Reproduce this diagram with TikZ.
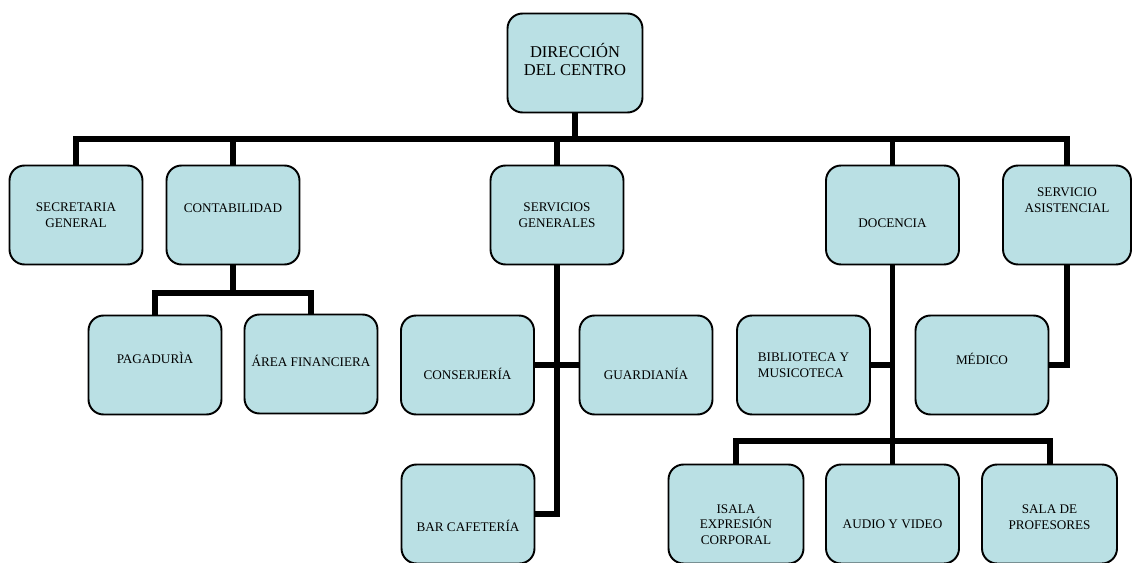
\documentclass[tikz,border=0pt]{standalone}
\usepackage{fontspec}
\setmainfont{Liberation Serif}
\usepackage{tikz}
\usetikzlibrary{positioning}
\definecolor{boxblue}{RGB}{186,224,228}
\tikzset{basic/.style={draw,line width=1.1pt,fill=boxblue,rounded corners=0.3cm,inner sep=0pt}}
\tikzset{unit/.style={basic,minimum width=2.66cm,minimum height=1.98cm}}
\tikzset{txt/.style={font=\fontsize{7.5}{8.9}\selectfont,align=center}}
\tikzset{link/.style={line width=3.4pt}}

\begin{document}
\begin{tikzpicture}[x=0.02cm,y=-0.02cm]
        \useasboundingbox (0,0) rectangle (1132,563);
        % top
        \node[unit,minimum width=2.7cm,label={[txt,font=\fontsize{9.4}{10.2}\selectfont,yshift=2pt]center:DIRECCIÓN\\DEL CENTRO}] (dir) at (575,63) {};
        \coordinate (bus) at (575,139);
        % first level
        \node[unit,label={[txt]center:SECRETARIA\\GENERAL}] (sec) at (76,215) {};
        \node[unit,label={[txt,yshift=4pt]center:CONTABILIDAD}] (cont) at (233,215) {};
        \node[unit,label={[txt]center:SERVICIOS\\GENERALES}] (sg) at (557,215) {};
        \node[unit,label={[txt,yshift=-4.5pt]center:DOCENCIA}] (doc) at (892.5,215) {};
        \node[unit,minimum width=2.56cm,label={[txt,yshift=8.5pt]center:SERVICIO\\ASISTENCIAL}] (sa) at (1067,215) {};
            \path[draw,link] (dir) -- (bus);
            \path[draw,link] (sec.north) |- (bus) -| (sa.north);
            \path[draw,link] (cont.north) -- (cont.north |- bus);
            \path[draw,link] (sg.north) -- (sg.north |- bus);
            \path[draw,link] (doc.north) -- (doc.north |- bus);
        % contabilidad
        \node[unit,label={[txt,yshift=4pt]center:PAGADURÌA}] (pag) at (155,365) {};
        \node[unit,label={[txt,yshift=2pt]center:ÁREA FINANCIERA}] (area) at (311,364) {};
        \coordinate (cbus) at (233,293);
            \path[draw,link] (cont.south) -- (cbus);
            \path[draw,link] (pag.north) |- (cbus) -| (area.north);
        % servicios generales
        \node[unit,label={[txt,yshift=-5pt]center:CONSERJERÍA}] (cons) at (467.5,365) {};
        \node[unit,label={[txt,yshift=-5pt]center:GUARDIANÍA}] (guard) at (646,365) {};
        \node[unit,label={[txt,yshift=-7pt]center:BAR CAFETERÍA}] (bar) at (468,514) {};
            \path[draw,link] (sg.south) |- (bar.east);
            \path[draw,link] (cons.east) -- (guard.west);
        % docencia
        \node[unit,label={[txt,align=left]center:BIBLIOTECA Y\\MUSICOTECA}] (bib) at (803.5,365) {};
        \node[unit,minimum width=2.7cm,label={[txt,yshift=-6pt]center:ISALA\\EXPRESIÓN\\CORPORAL}] (isala) at (736,514) {};
        \node[unit,label={[txt,yshift=-6pt]center:AUDIO Y VIDEO}] (audio) at (892.5,514) {};
        \node[unit,minimum width=2.7cm,label={[txt,yshift=-2pt]center:SALA DE\\PROFESORES}] (sala) at (1049.5,514) {};
        \coordinate (dbus) at (892.5,441);
            \path[draw,link] (doc.south) -- (audio.north);
            \path[draw,link] (bib.east) -- (bib.east -| doc.south);
            \path[draw,link] (isala.north) |- (dbus) -| (sala.north);
        % servicio asistencial
        \node[unit,label={[txt,yshift=3.5pt]center:MÉDICO}] (med) at (982,365) {};
            \path[draw,link] (sa.south) |- (med.east);
    \end{tikzpicture}
\end{document}
